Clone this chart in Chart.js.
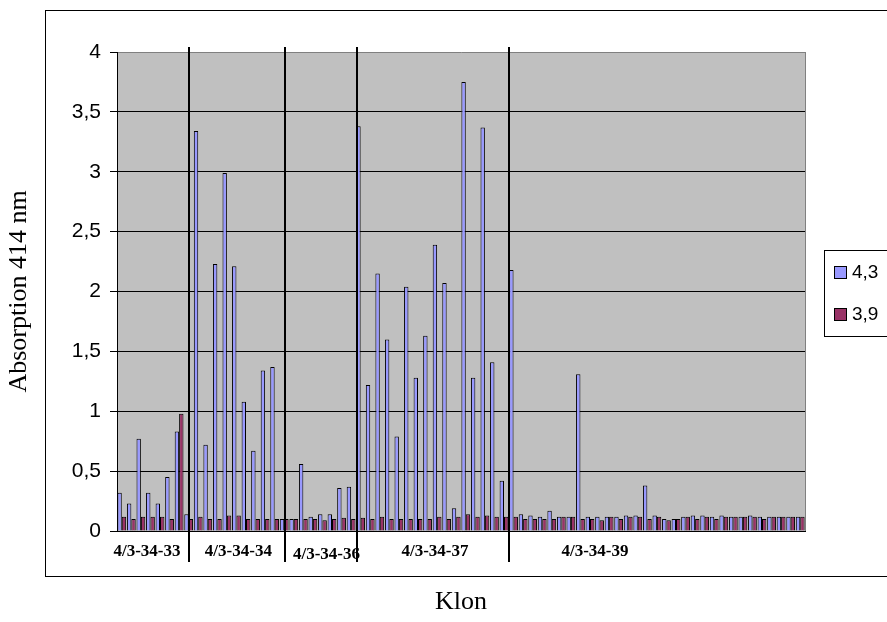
<!DOCTYPE html>
<html><head><meta charset="utf-8">
<script src="https://cdn.jsdelivr.net/npm/chart.js@4/dist/chart.umd.min.js"></script>
<style>html,body{margin:0;padding:0;background:#fff;overflow:hidden}</style>
</head><body>
<div style="width:887px;height:622px;position:relative"><canvas id="c" width="887" height="622"></canvas></div>
<script>
const categories = ['1','2','3','4','5','6','7','8','9','10','11','12','13','14','15','16','17','18','19','20','21','22','23','24','25','26','27','28','29','30','31','32','33','34','35','36','37','38','39','40','41','42','43','44','45','46','47','48','49','50','51','52','53','54','55','56','57','58','59','60','61','62','63','64','65','66','67','68','69','70','71','72'];
const series43 = [0.32,0.23,0.77,0.32,0.23,0.45,0.83,0.14,3.34,0.72,2.23,2.99,2.21,1.08,0.67,1.34,1.37,0.10,0.10,0.56,0.12,0.14,0.14,0.36,0.37,3.38,1.22,2.15,1.60,0.79,2.04,1.28,1.63,2.39,2.07,0.19,3.75,1.28,3.37,1.41,0.42,2.18,0.14,0.13,0.12,0.17,0.12,0.12,1.31,0.12,0.12,0.12,0.12,0.13,0.13,0.38,0.13,0.10,0.10,0.12,0.13,0.13,0.12,0.13,0.12,0.12,0.13,0.12,0.12,0.12,0.12,0.12];
const series39 = [0.12,0.10,0.12,0.12,0.12,0.10,0.98,0.10,0.12,0.10,0.10,0.13,0.13,0.10,0.10,0.10,0.10,0.10,0.10,0.10,0.10,0.09,0.10,0.11,0.10,0.11,0.10,0.12,0.10,0.10,0.10,0.10,0.10,0.12,0.10,0.12,0.14,0.12,0.13,0.12,0.12,0.12,0.10,0.10,0.10,0.10,0.12,0.12,0.10,0.10,0.09,0.12,0.10,0.12,0.12,0.10,0.12,0.09,0.10,0.12,0.10,0.12,0.10,0.12,0.12,0.12,0.12,0.10,0.12,0.12,0.12,0.12];
const seriesNames = ['4,3','3,9'];
const yTickLabels = ['0','0,5','1','1,5','2','2,5','3','3,5','4'];
const groupLabels = ['4/3-34-33','4/3-34-34','4/3-34-36','4/3-34-37','4/3-34-39'];

// annotation placement (in category units) and styling
const groupLabelAt = [2.64, 12.2, 21.42, 32.78, 49.52];
const groupLabelY = [552, 552, 555, 552, 552];
const dividerAt = [7.03, 17.08, 24.6, 40.5];

const decor = {
  id:'decor',
  beforeDraw(chart){
    const c = chart.ctx, a = chart.chartArea;
    c.save();
    c.strokeStyle = '#000'; c.lineWidth = 1;
    c.strokeRect(45.5, 10.5, 900, 566);
    c.fillStyle = '#C0C0C0';
    c.fillRect(a.left, a.top, a.right - a.left, a.bottom - a.top);
    c.strokeStyle = '#808080';
    c.beginPath(); c.moveTo(a.right + 0.5, a.top); c.lineTo(a.right + 0.5, a.bottom); c.stroke();
    c.restore();
  },
  afterDraw(chart){
    const c = chart.ctx, xs = chart.scales.x;
    c.save();
    c.strokeStyle = '#000'; c.lineWidth = 2;
    dividerAt.forEach(d => {
      const x = Math.round(xs.getPixelForValue(d));
      c.beginPath(); c.moveTo(x, 47); c.lineTo(x, 562); c.stroke();
    });
    c.fillStyle = '#000';
    c.font = 'bold 17px "Liberation Serif"';
    c.textAlign = 'center'; c.textBaseline = 'middle';
    groupLabels.forEach((t, i) => c.fillText(t, xs.getPixelForValue(groupLabelAt[i]), groupLabelY[i]));
    // legend
    c.fillStyle = '#fff';
    c.fillRect(824.5, 250.5, 100, 86);
    c.strokeStyle = '#000'; c.lineWidth = 1;
    c.strokeRect(824.5, 250.5, 100, 86);
    c.font = '19px "Liberation Sans"';
    c.textAlign = 'left';
    chart.data.datasets.forEach((ds, i) => {
      const yc = 273 + i * 42;
      c.fillStyle = ds.backgroundColor;
      c.fillRect(834.5, yc - 6.5, 12, 12);
      c.strokeStyle = '#000';
      c.strokeRect(834.5, yc - 6.5, 12, 12);
      c.fillStyle = '#000';
      c.fillText(ds.label, 852, yc);
    });
    c.restore();
  }
};

new Chart(document.getElementById('c'), {
  type:'bar',
  data:{
    labels:categories,
    datasets:[
      {label:seriesNames[0], data:series43, backgroundColor:'#9999FF', borderColor:'#000', borderWidth:1, categoryPercentage:0.92, barPercentage:1.0},
      {label:seriesNames[1], data:series39, backgroundColor:'#993366', borderColor:'#000', borderWidth:1, categoryPercentage:0.92, barPercentage:1.0}
    ]
  },
  options:{
    responsive:false, animation:false,
    layout:{padding:{top:52,right:82,bottom:0,left:0}},
    plugins:{legend:{display:false}, tooltip:{enabled:false}},
    scales:{
      x:{
        grid:{display:false, drawTicks:false},
        border:{color:'#000', width:1},
        ticks:{display:false},
        title:{display:true, text:'Klon', color:'#000', font:{family:'Liberation Serif', size:26}, padding:{top:0, bottom:4}},
        afterFit(s){ s.height = 91; }
      },
      y:{
        min:0, max:4,
        ticks:{stepSize:0.5, color:'#000', padding:9, font:{family:'Liberation Sans', size:21},
               callback:(v,i)=>yTickLabels[i]},
        grid:{color:(ctx)=> ctx.tick && ctx.tick.value === 4 ? '#808080' : '#000', lineWidth:1, tickLength:7, tickColor:'#000'},
        border:{color:'#000', width:1},
        title:{display:true, text:'Absorption 414 nm', color:'#000', font:{family:'Liberation Serif', size:26}, padding:{top:4, bottom:0}},
        afterFit(s){ s.width = 117; }
      }
    }
  },
  plugins:[decor]
});
</script>
</body></html>
